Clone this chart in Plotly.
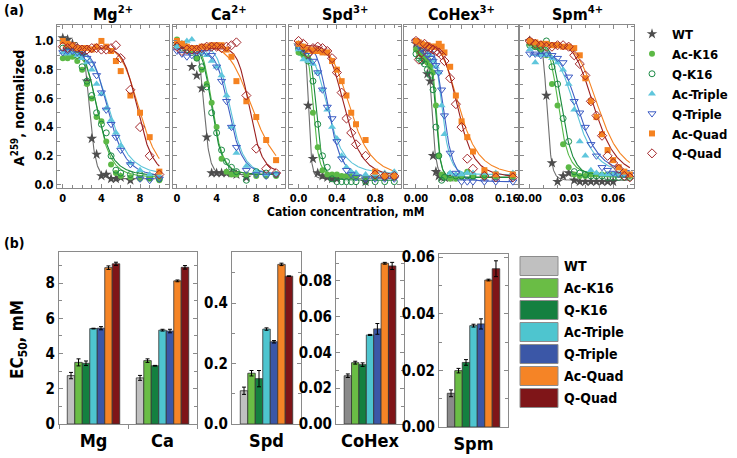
import numpy as np
import plotly.graph_objects as go

FONT = 'DejaVu Sans Condensed, Liberation Sans Narrow, Roboto, sans-serif'
EDGE = '#8a8a8a'
W, H = 737, 458

variants = ['WT', 'Ac-K16', 'Q-K16', 'Ac-Triple', 'Q-Triple', 'Ac-Quad', 'Q-Quad']
panel_titles = ['Mg<sup>2+</sup>', 'Ca<sup>2+</sup>', 'Spd<sup>3+</sup>', 'CoHex<sup>3+</sup>', 'Spm<sup>4+</sup>']
bar_groups = [['Mg', 'Ca'], ['Spd'], ['CoHex'], ['Spm']]

# ---- (a) titration data, normalized A259 ----
mg_x = [0, 0.5, 1, 1.5, 2, 2.5, 3, 3.5, 4, 4.5, 5, 5.5, 6, 7, 8, 9, 10]
mg_wt = [1.02, 1.01, 0.98, 0.95, 0.90, 0.72, 0.32, 0.21, 0.06, 0.07, 0.04, 0.04, 0.05, 0.03, None, None, None]
mg_ack16 = [0.88, 0.88, 0.89, 0.86, 0.80, 0.70, 0.60, 0.47, 0.44, 0.30, 0.14, 0.08, 0.06, 0.05, 0.04, 0.04, 0.03]
mg_qk16 = [0.95, 0.93, 0.93, 0.90, 0.82, 0.72, 0.62, 0.50, 0.42, 0.36, 0.20, 0.10, 0.08, 0.07, 0.07, 0.05, 0.04]
mg_actriple = [0.92, 0.91, 0.92, 0.90, 0.88, 0.85, 0.80, 0.70, 0.63, 0.53, 0.45, 0.36, 0.27, 0.15, 0.10, 0.07, 0.06]
mg_qtriple = [0.92, 0.93, 0.93, 0.92, 0.92, 0.88, 0.84, 0.76, 0.64, 0.52, 0.42, 0.33, 0.24, 0.14, 0.04, 0.03, 0.04]
mg_acquad = [1.0, 0.98, 0.97, 0.95, 0.95, 0.95, 0.94, 0.96, 1.0, 0.96, 0.93, 0.86, 0.79, 0.62, 0.50, 0.33, 0.09]
mg_qquad = [0.96, 0.95, 0.96, 0.95, 0.94, 0.94, 0.95, 0.95, 0.94, 0.94, 0.95, 0.97, 0.88, 0.66, 0.40, 0.20, 0.07]

ca_x = [0, 0.5, 1, 1.5, 2, 2.5, 3, 3.5, 4, 4.5, 5, 5.5, 6, 7, 8, 9, 10]
ca_wt = [0.98, 0.97, 0.95, 0.82, 0.76, 0.67, 0.33, 0.08, 0.08, 0.08, 0.08, 0.08, 0.07, 0.05, None, None, None]
ca_ack16 = [1.01, 0.98, 0.96, 0.93, 0.88, 0.80, 0.70, 0.57, 0.40, 0.18, 0.09, 0.07, 0.07, 0.07, 0.06, 0.06, 0.06]
ca_qk16 = [0.97, 0.95, 0.94, 0.92, 0.88, 0.82, 0.68, 0.50, 0.36, 0.24, 0.16, 0.12, 0.09, 0.03, 0.09, 0.08, 0.07]
ca_actriple = [0.96, 0.98, 1.0, 1.01, 0.95, 0.92, 0.90, 0.86, 0.82, 0.76, 0.62, 0.40, 0.22, 0.13, 0.09, 0.07, 0.07]
ca_qtriple = [0.93, 0.91, 0.89, 0.90, 0.92, 0.92, 0.92, 0.90, 0.82, 0.72, 0.58, 0.40, 0.26, 0.10, 0.07, 0.06, 0.07]
ca_acquad = [1.0, 0.98, 0.96, 0.95, 0.95, 0.96, 0.96, 0.97, 0.97, 0.97, 0.94, 0.89, 0.72, 0.58, 0.47, 0.31, 0.17]
ca_qquad = [0.96, 0.93, 0.94, 0.94, 0.94, 0.95, 0.96, 0.96, 0.96, 0.95, 0.96, 0.97, 0.99, 0.62, 0.25, 0.11, 0.08]

spd_x = [0, 0.05, 0.1, 0.15, 0.2, 0.25, 0.3, 0.35, 0.4, 0.45, 0.5, 0.55, 0.6, 0.7, 0.8, 0.9, 1.0]
spd_wt = [0.97, 0.94, 0.55, 0.18, 0.08, 0.06, 0.05, 0.04, 0.04, None, None, None, None, 0.02, None, None, None]
spd_ack16 = [0.92, 0.90, 0.88, 0.50, 0.26, 0.10, 0.07, 0.07, 0.07, 0.06, 0.06, 0.06, 0.06, 0.05, 0.05, 0.05, 0.05]
spd_qk16 = [0.95, 0.92, 0.86, 0.72, 0.42, 0.20, 0.12, 0.04, 0.02, 0.02, 0.02, 0.02, 0.02, 0.02, 0.02, 0.02, 0.02]
spd_actriple = [0.94, 0.87, 0.86, 0.84, 0.78, 0.66, 0.52, 0.40, 0.32, 0.20, 0.12, 0.09, 0.08, 0.07, 0.07, 0.08, 0.09]
spd_qtriple = [0.96, 0.94, 0.90, 0.86, 0.78, 0.66, 0.54, 0.46, 0.30, 0.18, 0.10, 0.07, 0.05, 0.04, 0.04, 0.04, 0.04]
spd_acquad = [0.98, 0.96, 0.94, 0.93, 0.93, 0.92, 0.92, 0.86, 0.80, 0.72, 0.62, 0.50, 0.42, 0.31, 0.09, 0.06, 0.06]
spd_qquad = [1.0, 0.98, 0.91, 0.95, 0.96, 0.95, 0.93, 0.88, 0.78, 0.64, 0.46, 0.36, 0.28, 0.20, 0.07, 0.06, 0.06]

cohex_x = [0, 0.005, 0.01, 0.015, 0.02, 0.025, 0.03, 0.035, 0.04, 0.045, 0.05, 0.06, 0.07, 0.08, 0.09, 0.1, 0.12, 0.14, 0.17]
cohex_wt = [0.98, 0.96, 0.94, 0.86, 0.77, 0.72, 0.20, 0.09, 0.06, 0.05, 0.05, 0.05, None, None, None, None, None, None, None]
cohex_ack16 = [0.94, 0.92, 0.90, 0.88, 0.85, 0.82, 0.78, 0.55, 0.20, 0.07, 0.05, 0.04, 0.04, 0.05, 0.09, 0.05, 0.05, 0.05, 0.05]
cohex_qk16 = [0.91, 0.88, 0.86, 0.84, 0.80, 0.76, 0.66, 0.40, 0.20, 0.03, 0.05, 0.07, 0.06, 0.06, 0.06, 0.06, 0.07, 0.07, 0.07]
cohex_actriple = [1.0, 0.98, 0.97, 0.95, 0.92, 0.90, 0.86, 0.82, 0.78, 0.55, 0.35, 0.08, 0.07, 0.07, 0.08, 0.08, 0.08, 0.08, 0.08]
cohex_qtriple = [1.0, 0.98, 0.94, 0.92, 0.90, 0.88, 0.86, 0.83, 0.78, 0.66, 0.48, 0.22, 0.08, 0.02, 0.02, 0.02, 0.02, 0.02, 0.02]
cohex_acquad = [1.0, 0.99, 0.98, 0.97, 0.97, 0.96, 0.96, 0.96, 0.98, 0.96, 0.92, 0.82, 0.62, 0.44, 0.33, 0.23, 0.10, 0.07, 0.07]
cohex_qquad = [1.0, 0.87, 0.92, 0.98, 0.96, 0.95, 0.94, 0.93, 0.92, 0.90, 0.86, 0.74, 0.56, 0.40, 0.18, 0.11, 0.06, 0.05, 0.05]

spm_x = [0, 0.004, 0.008, 0.012, 0.016, 0.02, 0.024, 0.028, 0.032, 0.036, 0.04, 0.044, 0.048, 0.052, 0.056, 0.06, 0.064, 0.068, 0.072]
spm_wt = [1.0, 0.97, 0.93, 0.62, 0.15, 0.02, 0.06, 0.08, 0.03, 0.02, 0.02, 0.02, 0.02, 0.02, 0.02, 0.02, None, None, None]
spm_ack16 = [0.98, 0.96, 0.94, 0.90, 0.70, 0.55, 0.28, 0.12, 0.07, 0.06, 0.06, 0.07, 0.07, 0.07, 0.07, 0.07, 0.07, 0.07, 0.06]
spm_qk16 = [0.97, 0.96, 0.94, 1.0, 0.82, 0.70, 0.46, 0.30, 0.09, 0.08, 0.07, 0.06, 0.06, 0.06, 0.05, 0.05, 0.05, 0.05, 0.05]
spm_actriple = [0.94, 0.85, 0.90, 0.90, 0.88, 0.85, 0.80, 0.70, 0.52, 0.30, 0.20, 0.10, 0.08, 0.07, 0.07, 0.07, 0.07, 0.07, 0.07]
spm_qtriple = [0.91, 0.91, 0.90, 0.91, 0.90, 0.88, 0.85, 0.75, 0.58, 0.50, 0.40, 0.28, 0.20, 0.12, 0.10, 0.08, 0.07, 0.07, 0.07]
spm_acquad = [1.0, 0.99, 0.98, 0.98, 0.97, 0.97, 0.96, 0.96, 0.95, 0.90, 0.74, 0.58, 0.47, 0.35, 0.24, 0.17, 0.12, 0.09, 0.07]
spm_qquad = [1.0, 0.98, 0.97, 0.96, 0.96, 0.97, 0.97, 0.96, 0.90, 0.84, 0.76, 0.58, 0.48, 0.34, 0.20, 0.15, 0.11, 0.06, 0.05]

# Hill-fit parameters for the curves (midpoint, Hill n, top, bottom), per variant
mg_mid = [2.8, 3.7, 3.65, 4.95, 4.8, 8.0, 7.8]
mg_n = [9, 5.5, 5, 5, 5.5, 8, 10]
mg_top = [0.97, 0.9, 0.94, 0.92, 0.93, 0.96, 0.95]
mg_bot = [0.04, 0.05, 0.06, 0.06, 0.05, 0.05, 0.06]

ca_mid = [2.75, 3.6, 3.55, 5.4, 5.3, 7.8, 7.35]
ca_n = [10, 7, 7, 8, 8, 6, 12]
ca_top = [0.96, 0.97, 0.95, 0.96, 0.92, 0.96, 0.95]
ca_bot = [0.07, 0.07, 0.07, 0.07, 0.07, 0.03, 0.08]

spd_mid = [0.105, 0.16, 0.19, 0.32, 0.32, 0.55, 0.49]
spd_n = [7, 6, 6, 4, 5, 5, 5.5]
spd_top = [0.96, 0.9, 0.93, 0.9, 0.95, 0.96, 0.97]
spd_bot = [0.04, 0.06, 0.03, 0.07, 0.04, 0.05, 0.05]

cohex_mid = [0.028, 0.036, 0.035, 0.046, 0.049, 0.077, 0.075]
cohex_n = [8, 10, 9, 7, 6, 4.5, 5.5]
cohex_top = [0.97, 0.9, 0.88, 0.97, 0.97, 0.98, 0.96]
cohex_bot = [0.05, 0.05, 0.05, 0.07, 0.02, 0.06, 0.05]

spm_mid = [0.0125, 0.021, 0.0235, 0.034, 0.036, 0.05, 0.047]
spm_n = [8, 6, 6, 5, 5, 6, 6]
spm_top = [0.99, 0.97, 0.97, 0.9, 0.91, 0.98, 0.99]
spm_bot = [0.03, 0.07, 0.05, 0.07, 0.07, 0.06, 0.05]

# ---- (b) EC50 values (mM) and errors ----
ec50_mg = [2.75, 3.5, 3.45, 5.42, 5.44, 8.88, 9.1]
err_mg = [0.18, 0.2, 0.13, 0.02, 0.09, 0.1, 0.09]
ec50_ca = [2.62, 3.6, 3.31, 5.33, 5.28, 8.13, 8.9]
err_ca = [0.14, 0.1, 0.02, 0.05, 0.1, 0.05, 0.1]
ec50_spd = [0.11, 0.168, 0.15, 0.314, 0.272, 0.528, 0.489]
err_spd = [0.012, 0.009, 0.027, 0.004, 0.004, 0.004, 0.001]
ec50_cohex = [0.027, 0.0343, 0.0332, 0.0498, 0.0532, 0.0899, 0.0884]
err_cohex = [0.001, 0.0008, 0.001, 0.0003, 0.003, 0.0005, 0.002]
ec50_spm = [0.0119, 0.0199, 0.0228, 0.0358, 0.0364, 0.0519, 0.0559]
err_spm = [0.0012, 0.0008, 0.001, 0.0005, 0.0018, 0.0003, 0.0028]

# ---- styles ----
mk_symbols = ['star', 'circle', 'circle-open', 'triangle-up', 'triangle-down-open', 'square', 'diamond-open']
mk_colors = ['#4d4d4d', '#5cb946', '#1c8a45', '#5fc6dc', '#3d5cc4', '#f58220', '#a3262a']
mk_sizes = [8, 6, 6, 7, 7, 6, 7]
line_colors = ['#6e6e6e', '#55b848', '#1a8a3c', '#5cc4d9', '#3e5fc4', '#f58220', '#9b1f1f']
bar_colors = ['#c0c0c0', '#6abd45', '#148040', '#4ec5cf', '#3b57a7', '#f58426', '#7f1518']
wt_dark = '#8a8a8a'


def hx(p):
    return p / W


def hy(p):
    return 1 - p / H


def bold(size):
    return dict(family=FONT, size=size, color='black', weight='bold')


def frame(**kw):
    d = dict(showline=True, linecolor=EDGE, linewidth=1, mirror='ticks', ticks='inside',
             ticklen=4, tickcolor=EDGE, showgrid=False, zeroline=False, tickfont=bold(11))
    d.update(kw)
    return d


def label(text, x, y, size, **kw):
    d = dict(text=text, x=hx(x), y=hy(y), xref='paper', yref='paper', showarrow=False,
             xanchor='center', yanchor='middle', font=bold(size))
    d.update(kw)
    return d


fig = go.Figure()
layout = {}

# ---------- panel (a) ----------
top_pts = [
    (mg_x, [mg_wt, mg_ack16, mg_qk16, mg_actriple, mg_qtriple, mg_acquad, mg_qquad], (mg_mid, mg_n, mg_top, mg_bot)),
    (ca_x, [ca_wt, ca_ack16, ca_qk16, ca_actriple, ca_qtriple, ca_acquad, ca_qquad], (ca_mid, ca_n, ca_top, ca_bot)),
    (spd_x, [spd_wt, spd_ack16, spd_qk16, spd_actriple, spd_qtriple, spd_acquad, spd_qquad], (spd_mid, spd_n, spd_top, spd_bot)),
    (cohex_x, [cohex_wt, cohex_ack16, cohex_qk16, cohex_actriple, cohex_qtriple, cohex_acquad, cohex_qquad], (cohex_mid, cohex_n, cohex_top, cohex_bot)),
    (spm_x, [spm_wt, spm_ack16, spm_qk16, spm_actriple, spm_qtriple, spm_acquad, spm_qquad], (spm_mid, spm_n, spm_top, spm_bot)),
]
top_px = [(57, 169), (173, 285), (289, 401), (404, 518), (520, 634)]
top_range = [[-0.6, 11], [-0.4, 10.9], [-0.1, 1.07], [-0.021, 0.179], [-0.007, 0.075]]
top_dtick = [4, 4, 0.4, 0.08, 0.03]
top_minor = [1, 1, 0.1, 0.02, 0.01]
top_fmt = ['', '', '.1f', '.2f', '.2f']

for k, (xs, series, fit) in enumerate(top_pts):
    n = k + 1
    sfx = '' if n == 1 else str(n)
    mid, nh, tp, bt = fit
    xx = np.linspace(0, max(xs), 250)
    for i in range(7):
        yy = bt[i] + (tp[i] - bt[i]) / (1 + (xx / mid[i]) ** nh[i])
        fig.add_trace(go.Scatter(x=xx, y=yy, mode='lines', line=dict(color=line_colors[i], width=1.1),
                                 xaxis='x' + sfx, yaxis='y' + sfx, showlegend=False, hoverinfo='skip'))
    for i in range(7):
        open_mk = mk_symbols[i].endswith('open')
        fig.add_trace(go.Scatter(
            x=xs, y=series[i], mode='markers', name=variants[i], showlegend=(k == 0),
            marker=dict(symbol=mk_symbols[i], size=mk_sizes[i], color=mk_colors[i],
                        line=dict(width=1 if open_mk else 0, color=mk_colors[i])),
            xaxis='x' + sfx, yaxis='y' + sfx))
    x0, x1 = top_px[k]
    layout['xaxis' + sfx] = frame(domain=[hx(x0), hx(x1)], anchor='y' + sfx, range=top_range[k],
                                  tick0=0, dtick=top_dtick[k], tickformat=top_fmt[k],
                                  minor=dict(ticks='inside', dtick=top_minor[k], ticklen=3, tickcolor=EDGE))
    layout['yaxis' + sfx] = frame(domain=[hy(188), hy(25)], anchor='x' + sfx, range=[-0.024, 1.111],
                                  tick0=0, dtick=0.2, tickformat='.1f', showticklabels=(k == 0),
                                  tickfont=bold(12),
                                  minor=dict(ticks='inside', dtick=0.1, ticklen=3, tickcolor=EDGE))

# ---------- panel (b) ----------
bot_vals = [(ec50_mg, ec50_ca), (ec50_spd,), (ec50_cohex,), (ec50_spm,)]
bot_errs = [(err_mg, err_ca), (err_spd,), (err_cohex,), (err_spm,)]
bot_px = [(59, 197, 252, 424), (232, 301, 252, 424), (336, 404, 252, 424), (439, 508, 254, 427)]
bot_range = [[0, 9.77], [0, 0.569], [0, 0.0962], [0, 0.0611]]
bot_dtick = [2, 0.2, 0.02, 0.02]
bot_minor = [1, 0.1, 0.01, 0.01]
bot_fmt = ['', '.1f', '.2f', '.2f']

for k in range(4):
    n = 6 + k
    sfx = str(n)
    cats = bar_groups[k]
    for i in range(7):
        col = bar_colors[i]
        if i == 0 and k >= 2:
            col = wt_dark
        fig.add_trace(go.Bar(
            x=cats, y=[v[i] for v in bot_vals[k]], name=variants[i], showlegend=False,
            marker=dict(color=col, line=dict(color='#333333', width=0.8)),
            error_y=dict(type='data', array=[e[i] for e in bot_errs[k]], color='black', thickness=1, width=2),
            xaxis='x' + sfx, yaxis='y' + sfx))
    x0, x1, y0, y1 = bot_px[k]
    layout['xaxis' + sfx] = dict(domain=[hx(x0), hx(x1)], anchor='y' + sfx, type='category',
                                 range=[-0.5, len(cats) - 0.5], showline=True, linecolor=EDGE, mirror=True,
                                 ticks='outside' if len(cats) > 1 else '', tickson='boundaries', ticklen=4,
                                 tickcolor=EDGE, showgrid=False, tickfont=bold(18))
    layout['yaxis' + sfx] = frame(domain=[hy(y1), hy(y0)], anchor='x' + sfx, range=bot_range[k],
                                  tick0=0, dtick=bot_dtick[k], tickformat=bot_fmt[k], tickfont=bold(15),
                                  minor=dict(ticks='inside', dtick=bot_minor[k], ticklen=3, tickcolor=EDGE))

# ---------- text ----------
ann = []
for k, t in enumerate(panel_titles):
    x0, x1 = top_px[k]
    ann.append(label(t, (x0 + x1) / 2, 14, 16))
ann.append(label('(a)', 2, 10, 14, xanchor='left'))
ann.append(label('(b)', 2, 243, 14, xanchor='left'))
ann.append(label('A<sup>259</sup>, normalized', 18, 108, 14, textangle=-90))
ann.append(label('Cation concentration, mM', 345, 212, 12))
ann.append(label('EC<sub>50</sub>, mM', 18, 340, 17, textangle=-90))

# bar legend (b): swatches + labels
shapes = []
for i, name in enumerate(variants):
    cy = 266 + 22 * i
    shapes.append(dict(type='rect', xref='paper', yref='paper', x0=hx(520), x1=hx(558),
                       y0=hy(cy + 9.5), y1=hy(cy - 9.5), fillcolor=bar_colors[i], line=dict(color='#8c8c8c', width=1)))
    ann.append(label(name, 562, cy, 14, xanchor='left'))

layout.update(
    width=W, height=H, margin=dict(l=0, r=0, t=0, b=0, autoexpand=False),
    paper_bgcolor='white', plot_bgcolor='white',
    barmode='group', bargap=0.24, bargroupgap=0,
    annotations=ann, shapes=shapes,
    legend=dict(x=hx(632), y=hy(19), xanchor='left', yanchor='top', bgcolor='rgba(0,0,0,0)',
                font=bold(13), tracegroupgap=0),
)
fig.update_layout(**layout)
fig.write_html("out.html", config={'displayModeBar': False},
               post_script="document.body.style.margin='0';")
